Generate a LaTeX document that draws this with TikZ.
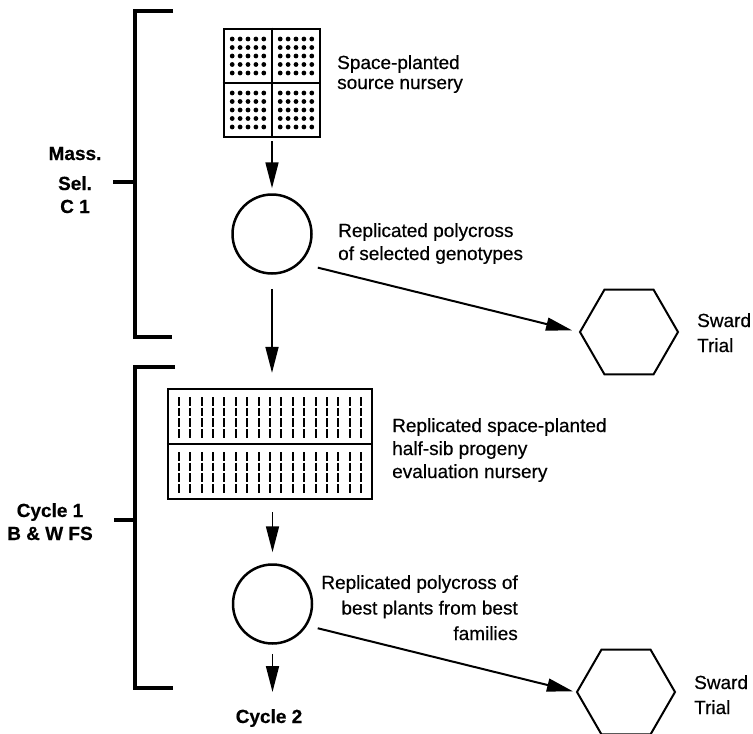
\documentclass[tikz,border=0pt]{standalone}
\usepackage{fontspec}
\setmainfont{Liberation Sans}[FakeBold=0.5]
\usetikzlibrary{arrows.meta,shapes.geometric}
\tikzset{
	arr/.style={line width=1.7pt, -{Triangle[length=26pt,width=13pt]}},
	lab/.style={font=\fontsize{19}{23}\selectfont, inner sep=0pt},
	blab/.style={font=\bfseries\fontsize{19}{23}\selectfont, inner sep=0pt, align=center},
	brk/.style={line width=3.5pt, line join=miter},
	sward/.style={draw, line width=2pt, regular polygon, regular polygon sides=6, minimum size=98pt, inner sep=0pt},
	pot/.style={draw, line width=2.5pt, circle, minimum size=79pt, inner sep=0pt},
	plot/.style={draw, line width=2.7pt, inner sep=0pt}
}
\begin{document}
\begin{tikzpicture}[x=1pt, y=-1pt]
\useasboundingbox (0,0) rectangle (753,734);

\node[plot, minimum width=96pt, minimum height=108pt] (src) at (272,83) {};
\draw[line width=2.2pt] (src.north) -- (src.south) (src.west) -- (src.east);
\foreach \qx in {248, 296}
{
	\foreach \qy in {56, 110}
	{
		\foreach \i in {-2, -1, ..., 2}
		{
			\foreach \j in {-2, -1, ..., 2}
			{
				\fill (\qx+7.9*\i, \qy+8.5*\j) circle (2.4pt);
			}
		}
	}
}

\node[plot, line width=2.3pt, minimum width=204pt, minimum height=110pt] (prog) at (270,444) {};
\draw[line width=2pt] (prog.west) -- (prog.east);
\foreach \i in {0, 1, ..., 16}
{
	\draw[line width=1.9pt, dash pattern=on 8.7pt off 2pt] (178.8+11.4*\i, 397) -- (178.8+11.4*\i, 438);
	\draw[line width=1.9pt, dash pattern=on 8.7pt off 2pt] (178.8+11.4*\i, 452) -- (178.8+11.4*\i, 493);
}

\node[pot] (pc1) at (272,234) {};
\node[pot] (pc2) at (272.5,604) {};
\node[sward] (sw1) at (629,332) {};
\node[sward] (sw2) at (626,692) {};

\draw[brk] (173,11) -- (135,11) -- (135,337) -- (172,337);
\draw[brk] (113,182) -- (135,182);
\draw[brk] (175,367) -- (135,367) -- (135,688) -- (173,688);
\draw[brk] (114,520) -- (135,520);

\node[lab, anchor=base west, align=left, font=\fontsize{19}{20}\selectfont] (tsrc) at (337,89) {Space-planted\\source nursery};
\node[lab, anchor=base west, align=left] (tpc1) at (338,260) {Replicated polycross\\of selected genotypes};
\node[lab, anchor=base west, align=left] (tprog) at (392,478) {Replicated space-planted\\half-sib progeny\\evaluation nursery};
\node[lab, anchor=base east, align=right, font=\fontsize{19}{25.5}\selectfont] (tpc2) at (518,640) {Replicated polycross of\\best plants from best\\families};
\node[lab, anchor=base west, align=left, font=\fontsize{19}{25}\selectfont] (tsw1) at (697,352) {Sward\\Trial};
\node[lab, anchor=base west, align=left, font=\fontsize{19}{25}\selectfont] (tsw2) at (694,714) {Sward\\Trial};

\node[blab, anchor=base] (mass) at (75,213) {Mass.\\[7pt]Sel.\\C 1};
\node[blab, anchor=base] (cyc1) at (50,540) {Cycle 1\\B \& W FS};
\node[blab, anchor=base] (cyc2) at (269,723) {Cycle 2};

\draw[arr, shorten <=3pt, shorten >=5pt] (src.south) -- (pc1.north);
\draw[arr, shorten <=14pt, shorten >=15pt] (pc1.south) -- (pc1.south |- prog.north);
\draw[arr, shorten <=12pt, shorten >=11pt] (prog.south -| pc2.north) -- (pc2.north);
\draw[arr, shorten <=9pt, shorten >=17pt] (pc2.south) -- (pc2.south |- cyc2.north);
\draw[arr, line width=2pt, shorten <=18pt, shorten >=7pt] (pc1.-46) -- (sw1.west);
\draw[arr, line width=2pt, shorten <=11pt, shorten >=3pt] (pc2.-32) -- (sw2.west);
\end{tikzpicture}
\end{document}
